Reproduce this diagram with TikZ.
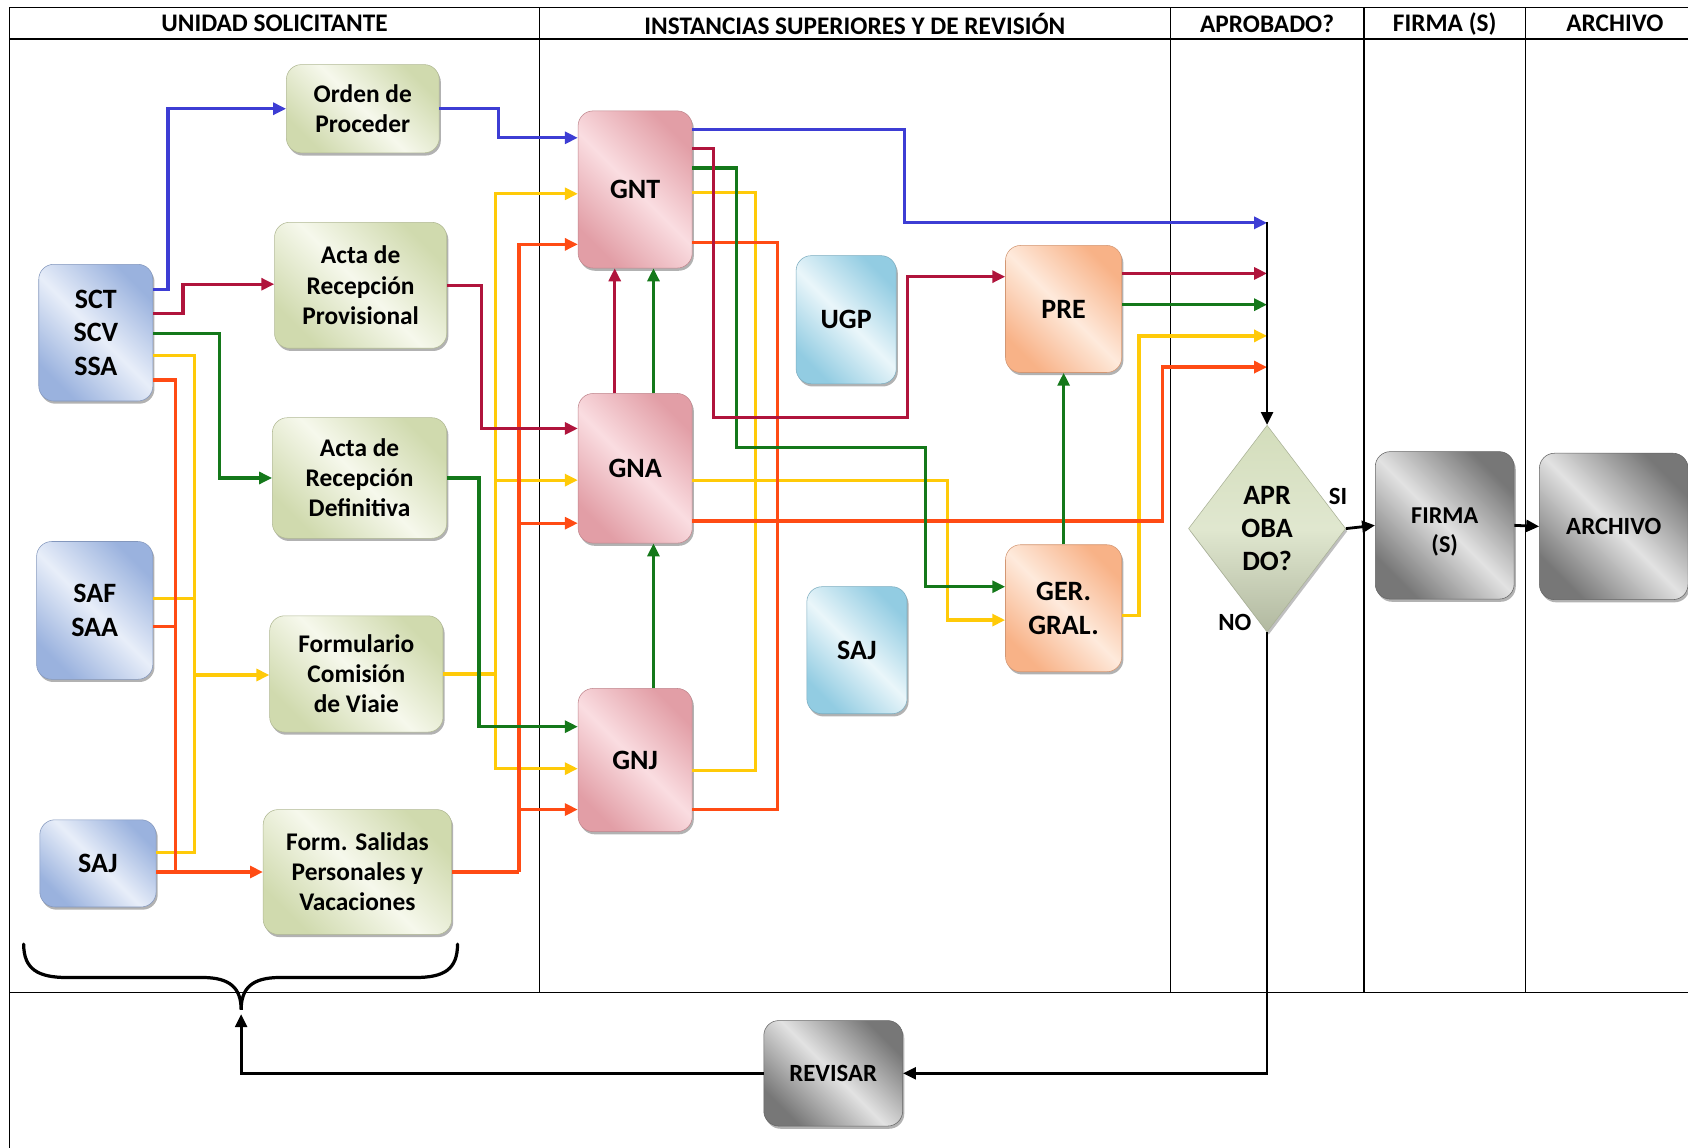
\documentclass[tikz,border=0pt]{standalone}
\usepackage{fontspec}
\setmainfont{Carlito}
\usetikzlibrary{arrows.meta,shapes.geometric,shadows}

% connector colours
\definecolor{lnBlue}{HTML}{3D3DD4}
\definecolor{lnCrim}{HTML}{B0143C}
\definecolor{lnGreen}{HTML}{14781A}
\definecolor{lnYellow}{HTML}{FFCA08}
\definecolor{lnOrange}{HTML}{FF4B14}
% box fills
\definecolor{blueD}{HTML}{9AB2DE}\definecolor{blueL}{HTML}{E8EEF9}
\definecolor{greenD}{HTML}{D0DAAE}\definecolor{greenL}{HTML}{F6F8EC}
\definecolor{pinkD}{HTML}{E29EA6}\definecolor{pinkL}{HTML}{FADDE1}
\definecolor{cyanD}{HTML}{92CCE2}\definecolor{cyanL}{HTML}{EAF6FA}
\definecolor{orngD}{HTML}{F8B287}\definecolor{orngL}{HTML}{FEEADC}
\definecolor{greyD}{HTML}{777777}\definecolor{greyL}{HTML}{E2E2E2}
\definecolor{diaF}{HTML}{D3DDBB}

\newcommand\bigf{\fontsize{26}{31}\selectfont\bfseries}
\newcommand\boxf{\fontsize{23.6}{28}\selectfont\bfseries}
\newcommand\hdf{\fontsize{23.5}{26}\selectfont\bfseries}

\begin{document}
\begin{tikzpicture}[x=1pt,y=-1pt,
  card/.style={rounded corners=14pt, inner sep=0pt, align=center,
    drop shadow={shadow xshift=1.5pt,shadow yshift=-2.5pt,opacity=0.3,fill=black}},
  shd/.style n args={2}{top color=#1, bottom color=#1, middle color=#2, shading angle=-45,
    draw=#1!85!black, line width=0.5pt},
  bluecard/.style={card, shd={blueD}{blueL}},
  greencard/.style={card, shd={greenD}{greenL}},
  pinkcard/.style={card, shd={pinkD}{pinkL}},
  cyancard/.style={card, shd={cyanD}{cyanL}},
  orangecard/.style={card, shd={orngD}{orngL}},
  greycard/.style={card, shd={greyD}{greyL}},
  hd/.style={font=\hdf, inner sep=0pt},
  lbl/.style={font=\fontsize{23}{26}\selectfont\bfseries, inner sep=0pt},
  frm/.style={line width=1.3pt, black},
  cn/.style={line width=3pt, line join=miter},
  arw/.style={-{Triangle[length=12pt,width=11pt]}},
  cb/.style={cn, lnBlue}, cc/.style={cn, lnCrim}, cg/.style={cn, lnGreen},
  cy/.style={cn, lnYellow}, co/.style={cn, lnOrange},
  ck/.style={line width=2.6pt, black, -{Triangle[length=12pt,width=11pt]}}
]
\useasboundingbox (0,0) rectangle (1568,1066);
\fill[white] (0,0) rectangle (1568,1066);
\clip (0,0) rectangle (1568,1066);

% swimlane frame
\draw[frm] (9,7) rectangle (1600,1090);
\draw[line width=1.8pt] (9,36) -- (1600,36);
\draw[frm] (9,922) -- (1600,922);
\foreach \lx in {501,1087,1267,1417} \draw[frm] (\lx,7) -- (\lx,922);

% lane headings
\node[hd] (h1) at (255,22) {UNIDAD SOLICITANTE};
\node[hd] (h2) at (794,22) {INSTANCIAS SUPERIORES Y DE REVISIÓN};
\node[hd] (h3) at (1177,22) {APROBADO?};
\node[hd] (h4) at (1342,22) {FIRMA (S)};
\node[hd] (h5) at (1500,22) {ARCHIVO};

% requesting units
\node[bluecard, minimum width=106pt, minimum height=127pt, font=\bigf] (sct) at (89,309) {SCT\\SCV\\SSA};
\node[bluecard, minimum width=108pt, minimum height=128pt, font=\bigf] (saf) at (88,567) {SAF\\SAA};
\node[bluecard, minimum width=108pt, minimum height=81pt, font=\bigf] (saja) at (91,802) {SAJ};

% documents
\node[greencard, minimum width=142pt, minimum height=82pt, font=\boxf] (orden) at (337,101) {Orden de\\Proceder};
\node[greencard, minimum width=160pt, minimum height=117pt, font=\boxf] (actp) at (335,265) {Acta de\\Recepción\\Provisional};
\node[greencard, minimum width=162pt, minimum height=112pt, font=\boxf] (actd) at (334,444) {Acta de\\Recepción\\Definitiva};
\node[greencard, minimum width=161pt, minimum height=108pt, font=\boxf] (form) at (331,626) {Formulario\\Comisión\\de Viaie};
\node[greencard, minimum width=175pt, minimum height=116pt, font=\boxf] (fsal) at (332,810) {Form. Salidas\\Personales y\\Vacaciones};

% review instances
\node[pinkcard, minimum width=106pt, minimum height=146pt, font=\bigf] (gnt) at (590,176) {GNT};
\node[pinkcard, minimum width=106pt, minimum height=139pt, font=\bigf] (gna) at (590,435) {GNA};
\node[pinkcard, minimum width=106pt, minimum height=133pt, font=\bigf] (gnj) at (590,706) {GNJ};
\node[cyancard, minimum width=93pt, minimum height=119pt, font=\bigf] (ugp) at (786,297) {UGP};
\node[cyancard, minimum width=93pt, minimum height=118pt, font=\bigf] (sajb) at (796,604) {SAJ};
\node[orangecard, minimum width=108pt, minimum height=118pt, font=\bigf] (pre) at (988,287) {PRE};
\node[orangecard, minimum width=108pt, minimum height=118pt, font=\bigf] (ger) at (988,565) {GER.\\GRAL.};

% decision, signature, archive, review
\node[diamond, aspect=0.76, minimum width=146pt, minimum height=192pt, inner sep=0pt,
  top color=diaF, bottom color=diaF!80!black!90, middle color=diaF!70!white, draw=diaF!80!black,
  line width=0.5pt, align=center, font=\bigf,
  drop shadow={shadow xshift=1.5pt,shadow yshift=-2.5pt,opacity=0.25,fill=black}] (dia) at (1177,491) {APR\\OBA\\DO?};
\node[greycard, minimum width=129pt, minimum height=137pt,
  label={[yshift=-6pt, align=center, inner sep=0pt, font=\fontsize{22.5}{27}\selectfont\bfseries]center:{FIRMA\\(S)}}] (firma) at (1342,488) {};
\node[greycard, minimum width=138pt, minimum height=136pt, font=\fontsize{23}{27}\selectfont\bfseries] (arch) at (1499,489) {ARCHIVO};
\node[greycard, minimum width=129pt, minimum height=98pt, font=\fontsize{23}{27}\selectfont\bfseries] (revisar) at (774,997) {REVISAR};

\node[lbl] (si) at (1243,461) {SI};
\node[lbl] (no) at (1147,578) {NO};

% junction points
\coordinate (jn) at (1177,207);
\coordinate (yt1) at (181,627);
\coordinate (yt2) at (460,626);
\coordinate (ot1) at (163,810);
\coordinate (ot2) at (482,810);
\coordinate (bracetip) at (224,942);

% yellow routes
\draw[cy] (sct.east |- 0,330) -| (yt1) |- (saja.east |- 0,792);
\draw[cy] (saf.east |- 0,556) -- (yt1 |- 0,556);
\draw[cy,arw] (yt1) -- (form.west |- yt1);
\draw[cy] (form.east |- yt2) -- (yt2);
\draw[cy,arw] (yt2) |- (gnt.west |- 0,180);
\draw[cy,arw] (yt2) |- (gna.west |- 0,446);
\draw[cy,arw] (yt2) |- (gnj.west |- 0,714);
\draw[cy] (gnt.east |- 0,179) -| (702,716) -- (gnj.east |- 0,716);
\draw[cy,arw] (gna.east |- 0,446) -| (880,576) -- (ger.west |- 0,576);
\draw[cy,arw] (ger.east |- 0,572) -| (1058,312) -- (jn |- 0,312);

% orange routes
\draw[co] (sct.east |- 0,353) -| (ot1);
\draw[co] (saf.east |- 0,582) -- (ot1 |- 0,582);
\draw[co,arw] (saja.east |- ot1) -- (fsal.west |- ot1);
\draw[co] (fsal.east |- ot2) -- (ot2);
\draw[co,arw] (ot2) |- (gnt.west |- 0,227);
\draw[co,arw] (ot2) |- (gna.west |- 0,486);
\draw[co,arw] (ot2) |- (gnj.west |- 0,752);
\draw[co] (gnt.east |- 0,225) -| (722,752) -- (gnj.east |- 0,752);
\draw[co,arw] (gna.east |- 0,484) -| (1080,341) -- (jn |- 0,341);

% green routes
\draw[cg,arw] (sct.east |- 0,310) -| (204,444) -- (actd.west);
\draw[cg,arw] (actd.east) -| (445,675) -- (gnj.west |- 0,675);
\draw[cg,arw] (gnj.north -| 607,0) -- (gna.south -| 607,0);
\draw[cg,arw] (gna.north -| 607,0) -- (gnt.south -| 607,0);
\draw[cg,arw] (gnt.east |- 0,156) -| (684,416) -| (860,545) -- (ger.west |- 0,545);
\draw[cg,arw] (ger.north) -- (pre.south);
\draw[cg,arw] (pre.east |- 0,283) -- (jn |- 0,283);

% crimson routes
\draw[cc,arw] (sct.east |- 0,291) -| (170,264) -- (actp.west |- 0,264);
\draw[cc,arw] (actp.east) -| (447,398) -- (gna.west |- 0,398);
\draw[cc,arw] (gna.north -| 571,0) -- (gnt.south -| 571,0);
\draw[cc,arw] (gnt.east |- 0,138) -| (663,388) -| (843,257) -- (pre.west |- 0,257);
\draw[cc,arw] (pre.east |- 0,254) -- (jn |- 0,254);

% blue routes
\draw[cb,arw] (sct.east |- 0,269) -| (156,101) -- (orden.west);
\draw[cb,arw] (orden.east) -| (463,128) -- (gnt.west |- 0,128);
\draw[cb,arw] (gnt.east |- 0,120) -| (840,207) -- (jn);

% decision flow
\draw[ck] ([yshift=1pt]jn) -- (dia.north);
\draw[ck] (dia.east) -- (firma.west);
\draw[ck] (firma.east) -- (arch.west);
\draw[ck] (dia.south) |- (revisar.east);
\draw[ck] (revisar.west) -| (bracetip);

% brace grouping the requesting units
\draw[line width=3pt, black, line cap=round]
  (22,877) .. controls (22,900) and (35,908) .. (62,908) -- (188,908)
  .. controls (214,908) and (224,918) .. (224,938)
  .. controls (224,918) and (234,908) .. (260,908) -- (386,908)
  .. controls (413,908) and (425,900) .. (425,877);
\end{tikzpicture}
\end{document}
